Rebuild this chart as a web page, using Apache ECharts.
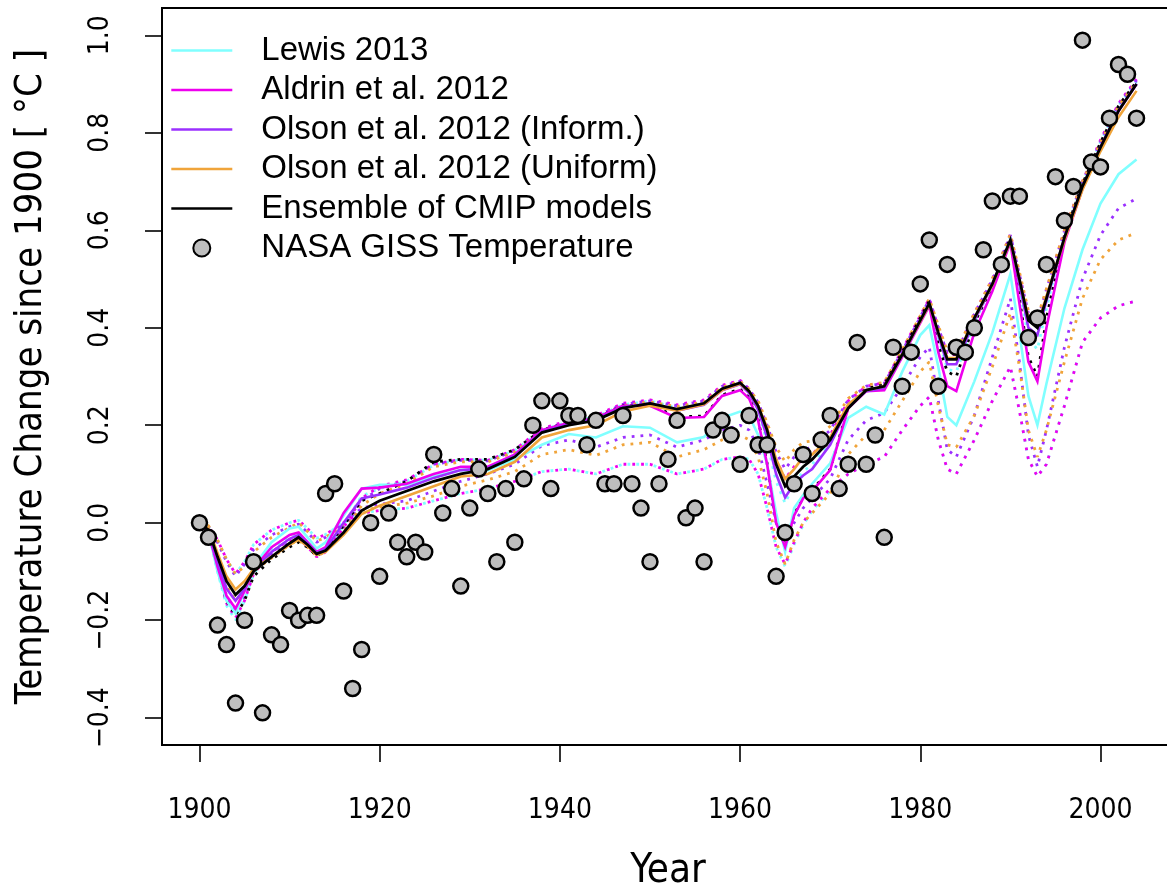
<!DOCTYPE html>
<html>
<head>
<meta charset="utf-8">
<script src="https://cdn.jsdelivr.net/npm/echarts@6/dist/echarts.min.js"></script>
<style>
html,body{margin:0;padding:0;background:#fff;}
#chart{width:1167px;height:888px;}
</style>
</head>
<body>
<div id="chart"></div>
<script>
// ---------------- DATA ----------------
const xTicks = [1900, 1920, 1940, 1960, 1980, 2000];
const yTicks = [-0.4, -0.2, 0.0, 0.2, 0.4, 0.6, 0.8, 1.0];

// sample years for the model curves
const years = [1900,1901,1902,1903,1904,1905,1906,
  1908,1910,1911,1912,1913,1914,
  1916,1918,1920,
  1923,1926,1929,1932,1935,1938,1941,1944,1947,1950,1953,1956,
  1958,1960,1961,1962,1963,1964,1965,1966,1967,1968,
  1970,1972,1974,1976,1978,1980,
  1981,1982,1983,1984,1986,1988,1990,
  1991,1992,1993,1994,1996,1998,2000,2002,2004];

// solid curves
const lewis = [0,-0.02,-0.10,-0.16,-0.186,-0.14,-0.09,
  -0.04,-0.012,-0.008,-0.03,-0.053,-0.04,
  0.015,0.07,0.078,
  0.078,0.095,0.108,0.108,0.13,0.16,0.182,0.175,0.198,0.195,0.165,0.176,
  0.215,0.228,0.22,0.18,0.12,0.02,-0.06,0.03,0.057,0.08,
  0.122,0.215,0.238,0.222,0.31,0.385,
  0.405,0.32,0.217,0.20,0.29,0.39,0.51,
  0.39,0.26,0.20,0.285,0.44,0.56,0.655,0.715,0.745];
const aldrin = [0,-0.02,-0.09,-0.15,-0.176,-0.14,-0.095,
  -0.05,-0.025,-0.02,-0.04,-0.06,-0.05,
  0.02,0.07,0.072,
  0.08,0.10,0.115,0.115,0.14,0.19,0.205,0.215,0.24,0.24,0.215,0.217,
  0.26,0.272,0.255,0.21,0.12,0.0,-0.05,0.015,0.05,0.065,
  0.108,0.235,0.27,0.272,0.34,0.41,
  0.445,0.35,0.28,0.27,0.39,0.475,0.575,
  0.45,0.33,0.29,0.40,0.575,0.685,0.77,0.845,0.90];
const olsonInform = [0,-0.018,-0.08,-0.135,-0.16,-0.135,-0.097,
  -0.06,-0.033,-0.025,-0.042,-0.062,-0.054,
  0.0,0.05,0.058,
  0.072,0.092,0.108,0.112,0.137,0.187,0.202,0.212,0.237,0.245,0.23,0.242,
  0.272,0.284,0.266,0.232,0.175,0.10,0.052,0.08,0.097,0.11,
  0.16,0.238,0.27,0.277,0.343,0.413,
  0.448,0.385,0.325,0.325,0.415,0.488,0.58,
  0.49,0.40,0.385,0.455,0.585,0.69,0.77,0.845,0.90];
const olsonUniform = [0,-0.012,-0.062,-0.11,-0.137,-0.12,-0.095,
  -0.07,-0.045,-0.035,-0.048,-0.066,-0.06,
  -0.025,0.018,0.035,
  0.055,0.075,0.095,0.10,0.125,0.175,0.19,0.20,0.228,0.24,0.23,0.243,
  0.272,0.285,0.27,0.24,0.195,0.13,0.09,0.11,0.135,0.14,
  0.175,0.243,0.272,0.28,0.345,0.413,
  0.448,0.39,0.338,0.338,0.42,0.488,0.578,
  0.50,0.42,0.405,0.465,0.58,0.683,0.762,0.832,0.886];
const cmip = [0,-0.015,-0.07,-0.12,-0.148,-0.13,-0.10,
  -0.07,-0.042,-0.03,-0.045,-0.064,-0.057,
  -0.02,0.025,0.045,
  0.065,0.085,0.10,0.11,0.135,0.185,0.20,0.21,0.235,0.245,0.233,0.245,
  0.275,0.287,0.27,0.24,0.19,0.12,0.075,0.095,0.115,0.13,
  0.17,0.235,0.272,0.28,0.345,0.415,
  0.45,0.39,0.335,0.335,0.42,0.49,0.58,
  0.50,0.415,0.40,0.46,0.585,0.69,0.77,0.845,0.90];

// dotted curves (lower bounds)
const lewisLo = [0,-0.008,-0.035,-0.075,-0.105,-0.08,-0.045,
  -0.015,0.0,0.005,-0.012,-0.032,-0.024,
  0.0,0.02,0.025,
  0.03,0.045,0.06,0.07,0.085,0.105,0.11,0.10,0.12,0.12,0.10,0.11,
  0.13,0.135,0.13,0.10,0.03,-0.05,-0.09,-0.045,-0.005,0.025,
  0.065,0.10,0.12,0.135,0.19,0.24,
  0.258,0.17,0.11,0.10,0.17,0.25,0.32,
  0.23,0.13,0.095,0.12,0.24,0.37,0.42,0.445,0.455];
const aldrinLo = [0,-0.008,-0.035,-0.075,-0.105,-0.08,-0.045,
  -0.015,0.0,0.005,-0.012,-0.032,-0.024,
  0.0,0.02,0.025,
  0.03,0.045,0.06,0.07,0.085,0.105,0.11,0.10,0.12,0.12,0.10,0.11,
  0.13,0.135,0.13,0.10,0.03,-0.05,-0.085,-0.04,0.0,0.03,
  0.07,0.10,0.12,0.135,0.19,0.24,
  0.258,0.17,0.11,0.10,0.17,0.25,0.32,
  0.23,0.13,0.095,0.12,0.24,0.37,0.42,0.445,0.455];
const olsonInformLo = [0,-0.008,-0.04,-0.08,-0.11,-0.085,-0.055,
  -0.025,-0.008,-0.003,-0.02,-0.04,-0.03,
  0.0,0.03,0.038,
  0.045,0.065,0.085,0.10,0.12,0.158,0.17,0.155,0.175,0.18,0.155,0.17,
  0.19,0.20,0.19,0.155,0.08,0.0,-0.04,0.0,0.03,0.05,
  0.09,0.17,0.21,0.225,0.28,0.34,
  0.36,0.25,0.15,0.135,0.22,0.34,0.46,
  0.33,0.18,0.115,0.19,0.36,0.50,0.59,0.645,0.665];
const olsonUniformLo = [0,-0.006,-0.035,-0.075,-0.105,-0.09,-0.06,
  -0.03,-0.01,0.0,-0.018,-0.038,-0.03,
  -0.005,0.025,0.032,
  0.04,0.055,0.075,0.088,0.105,0.14,0.15,0.138,0.16,0.165,0.135,0.15,
  0.17,0.18,0.17,0.135,0.06,-0.04,-0.085,-0.035,0.0,0.02,
  0.06,0.14,0.18,0.19,0.25,0.31,
  0.33,0.24,0.16,0.155,0.22,0.32,0.43,
  0.32,0.19,0.135,0.19,0.33,0.46,0.54,0.58,0.595];

// dotted curves (upper bounds)
const lewisHi = [0,-0.02,-0.10,-0.17,-0.20,-0.16,-0.105,
  -0.055,-0.028,-0.022,-0.045,-0.068,-0.055,
  -0.005,0.055,0.07,
  0.085,0.118,0.13,0.128,0.148,0.19,0.207,0.217,0.242,0.25,0.236,0.245,
  0.275,0.285,0.268,0.232,0.165,0.085,0.04,0.08,0.105,0.12,
  0.165,0.245,0.275,0.28,0.35,0.42,
  0.455,0.38,0.315,0.31,0.41,0.49,0.585,
  0.48,0.38,0.355,0.44,0.59,0.695,0.78,0.855,0.905];
const aldrinHi = [0,-0.02,-0.095,-0.165,-0.195,-0.16,-0.105,
  -0.06,-0.035,-0.03,-0.05,-0.07,-0.06,
  -0.01,0.05,0.075,
  0.088,0.12,0.13,0.128,0.15,0.193,0.21,0.22,0.245,0.252,0.242,0.252,
  0.282,0.292,0.275,0.245,0.19,0.13,0.09,0.115,0.13,0.14,
  0.18,0.25,0.28,0.287,0.355,0.425,
  0.46,0.40,0.345,0.345,0.43,0.50,0.592,
  0.51,0.425,0.41,0.475,0.60,0.70,0.785,0.86,0.91];
const olsonInformHi = [0,-0.018,-0.085,-0.15,-0.18,-0.15,-0.10,
  -0.065,-0.04,-0.032,-0.05,-0.068,-0.058,
  -0.012,0.045,0.07,
  0.086,0.12,0.128,0.127,0.148,0.19,0.208,0.218,0.243,0.25,0.24,0.25,
  0.28,0.29,0.274,0.247,0.20,0.145,0.11,0.135,0.15,0.155,
  0.19,0.252,0.28,0.286,0.352,0.422,
  0.458,0.40,0.348,0.348,0.428,0.498,0.59,
  0.51,0.43,0.415,0.478,0.598,0.70,0.782,0.857,0.908];
const olsonUniformHi = [0,-0.014,-0.075,-0.13,-0.16,-0.14,-0.10,
  -0.072,-0.045,-0.036,-0.05,-0.068,-0.06,
  -0.018,0.035,0.06,
  0.08,0.115,0.125,0.125,0.145,0.188,0.205,0.215,0.24,0.248,0.238,0.248,
  0.278,0.29,0.274,0.25,0.205,0.155,0.125,0.15,0.165,0.168,
  0.198,0.255,0.282,0.288,0.355,0.425,
  0.46,0.405,0.352,0.352,0.43,0.50,0.592,
  0.515,0.435,0.42,0.48,0.60,0.70,0.78,0.855,0.905];
const cmipDot = [0,-0.02,-0.09,-0.16,-0.19,-0.16,-0.11,
  -0.075,-0.05,-0.04,-0.05,-0.068,-0.055,
  -0.005,0.045,0.06,
  0.085,0.125,0.13,0.13,0.15,0.19,0.205,0.215,0.24,0.242,0.217,0.219,
  0.262,0.274,0.257,0.212,0.122,0.002,-0.048,0.017,0.052,0.067,
  0.11,0.237,0.275,0.283,0.35,0.42,
  0.455,0.365,0.31,0.30,0.41,0.485,0.585,
  0.46,0.34,0.30,0.42,0.59,0.695,0.78,0.855,0.905];

// NASA GISS annual anomalies, 1900..2004
const gissStart = 1900;
const giss = [0.00,-0.03,-0.21,-0.25,-0.37,-0.20,-0.08,-0.39,-0.23,-0.25,
  -0.18,-0.20,-0.19,-0.19,0.06,0.08,-0.14,-0.34,-0.26,0.00,
  -0.11,0.02,-0.04,-0.07,-0.04,-0.06,0.14,0.02,0.07,-0.13,
  0.03,0.11,0.06,-0.08,0.07,-0.04,0.09,0.20,0.25,0.07,
  0.25,0.22,0.22,0.16,0.21,0.08,0.08,0.22,0.08,0.03,
  -0.08,0.08,0.13,0.21,0.01,0.03,-0.08,0.19,0.21,0.18,
  0.12,0.22,0.16,0.16,-0.11,-0.02,0.08,0.14,0.06,0.17,
  0.22,0.07,0.12,0.37,0.12,0.18,-0.03,0.36,0.28,0.35,
  0.49,0.58,0.28,0.53,0.36,0.35,0.40,0.56,0.66,0.53,
  0.67,0.67,0.38,0.42,0.53,0.71,0.62,0.69,0.99,0.74,
  0.73,0.83,0.94,0.92,0.83];

// ---------------- STYLE ----------------
const C_CYAN = '#80FFFF', C_MAG = '#EE00EE', C_PUR = '#9B30FF', C_ORA = '#F0A43A', C_BLK = '#000000';
const NARROW = "'DejaVu Sans Condensed','Liberation Sans Narrow',sans-serif";
const REGULAR = "'Liberation Sans',Arial,Helvetica,sans-serif";

const pairs = arr => years.map((y, i) => [y, arr[i]]);
const gissData = giss.map((v, i) => [gissStart + i, v]);

function solid(name, arr, color, width) {
  return {name, type: 'line', data: pairs(arr), symbol: 'none', showSymbol: false,
    lineStyle: {color, width, cap: 'butt', join: 'miter'}, itemStyle: {color},
    silent: true, z: 3, animation: false};
}
function dotted(name, arr, color, offset) {
  return {name, type: 'line', data: pairs(arr), symbol: 'none', showSymbol: false,
    lineStyle: {color, width: 2.8, type: [2.8, 6], dashOffset: offset, cap: 'butt'},
    itemStyle: {color}, silent: true, z: 2, animation: false};
}
const legendLine = (name, w) => ({name, itemStyle: {opacity: 0}, lineStyle: {width: w}});

const chart = echarts.init(document.getElementById('chart'), null, {renderer: 'canvas'});
chart.setOption({
  backgroundColor: '#ffffff',
  animation: false,
  grid: {left: 162, top: 8, right: -7, bottom: 143, show: true, outerBoundsMode: 'none',
    borderColor: '#000', borderWidth: 2, backgroundColor: 'transparent', containLabel: false},
  legend: {
    data: [legendLine('Lewis 2013', 2.6), legendLine('Aldrin et al. 2012', 2.6),
      legendLine('Olson et al. 2012 (Inform.)', 2.6), legendLine('Olson et al. 2012 (Uniform)', 2.6),
      legendLine('Ensemble of CMIP models', 2.6), {name: 'NASA GISS Temperature'}],
    orient: 'vertical', left: 170, top: 34, padding: 0,
    itemWidth: 61, itemHeight: 17, itemGap: 6.5, selectedMode: false,
    textStyle: {fontSize: 33, fontFamily: REGULAR, color: '#000', lineHeight: 33, padding: [0, 0, 0, 24]}
  },
  xAxis: {
    type: 'value', min: 1895.84, max: 2008.16,
    axisLine: {show: false, onZero: false},
    axisTick: {show: true, length: 17, customValues: xTicks, lineStyle: {color: '#000', width: 1.6}},
    axisLabel: {customValues: xTicks, margin: 52, fontSize: 28, fontFamily: NARROW, color: '#000',
      formatter: v => String(v)},
    splitLine: {show: false},
    name: 'Year', nameLocation: 'middle', nameGap: 107,
    nameTextStyle: {fontSize: 40, fontFamily: NARROW, color: '#000'}
  },
  yAxis: {
    type: 'value', min: -0.456, max: 1.056,
    axisLine: {show: false, onZero: false},
    axisTick: {show: true, length: 17, customValues: yTicks, lineStyle: {color: '#000', width: 1.6}},
    axisLabel: {customValues: yTicks, rotate: 90, margin: 47, fontSize: 28, fontFamily: NARROW, color: '#000',
      formatter: v => (v < 0 ? '\u2212' : '') + Math.abs(v).toFixed(1)},
    splitLine: {show: false},
    name: 'Temperature Change since 1900 [ \u00B0C ]', nameLocation: 'middle', nameGap: 112, nameRotate: 90,
    nameTextStyle: {fontSize: 38, fontFamily: NARROW, color: '#000'}
  },
  series: [
    dotted('Lewis lo', lewisLo, C_CYAN, 0),
    dotted('Aldrin lo', aldrinLo, C_MAG, 4),
    dotted('Olson I lo', olsonInformLo, C_PUR, 0),
    dotted('Olson U lo', olsonUniformLo, C_ORA, 0),
    dotted('Lewis hi', lewisHi, C_CYAN, 0),
    dotted('Aldrin hi', aldrinHi, C_MAG, 2),
    dotted('Olson I hi', olsonInformHi, C_PUR, 4),
    dotted('Olson U hi', olsonUniformHi, C_ORA, 6),
    solid('Lewis 2013', lewis, C_CYAN, 2.6),
    solid('Aldrin et al. 2012', aldrin, C_MAG, 2.6),
    solid('Olson et al. 2012 (Inform.)', olsonInform, C_PUR, 2.6),
    solid('Olson et al. 2012 (Uniform)', olsonUniform, C_ORA, 2.6),
    solid('Ensemble of CMIP models', cmip, C_BLK, 2.8),
    dotted('CMIP dotted', cmipDot, C_BLK, 3),
    {name: 'NASA GISS Temperature', type: 'scatter', data: gissData, symbol: 'circle', symbolSize: 15,
      itemStyle: {color: '#BEBEBE', borderColor: '#000', borderWidth: 2.5, opacity: 1},
      silent: true, z: 5, animation: false}
  ]
});
</script>
</body>
</html>
